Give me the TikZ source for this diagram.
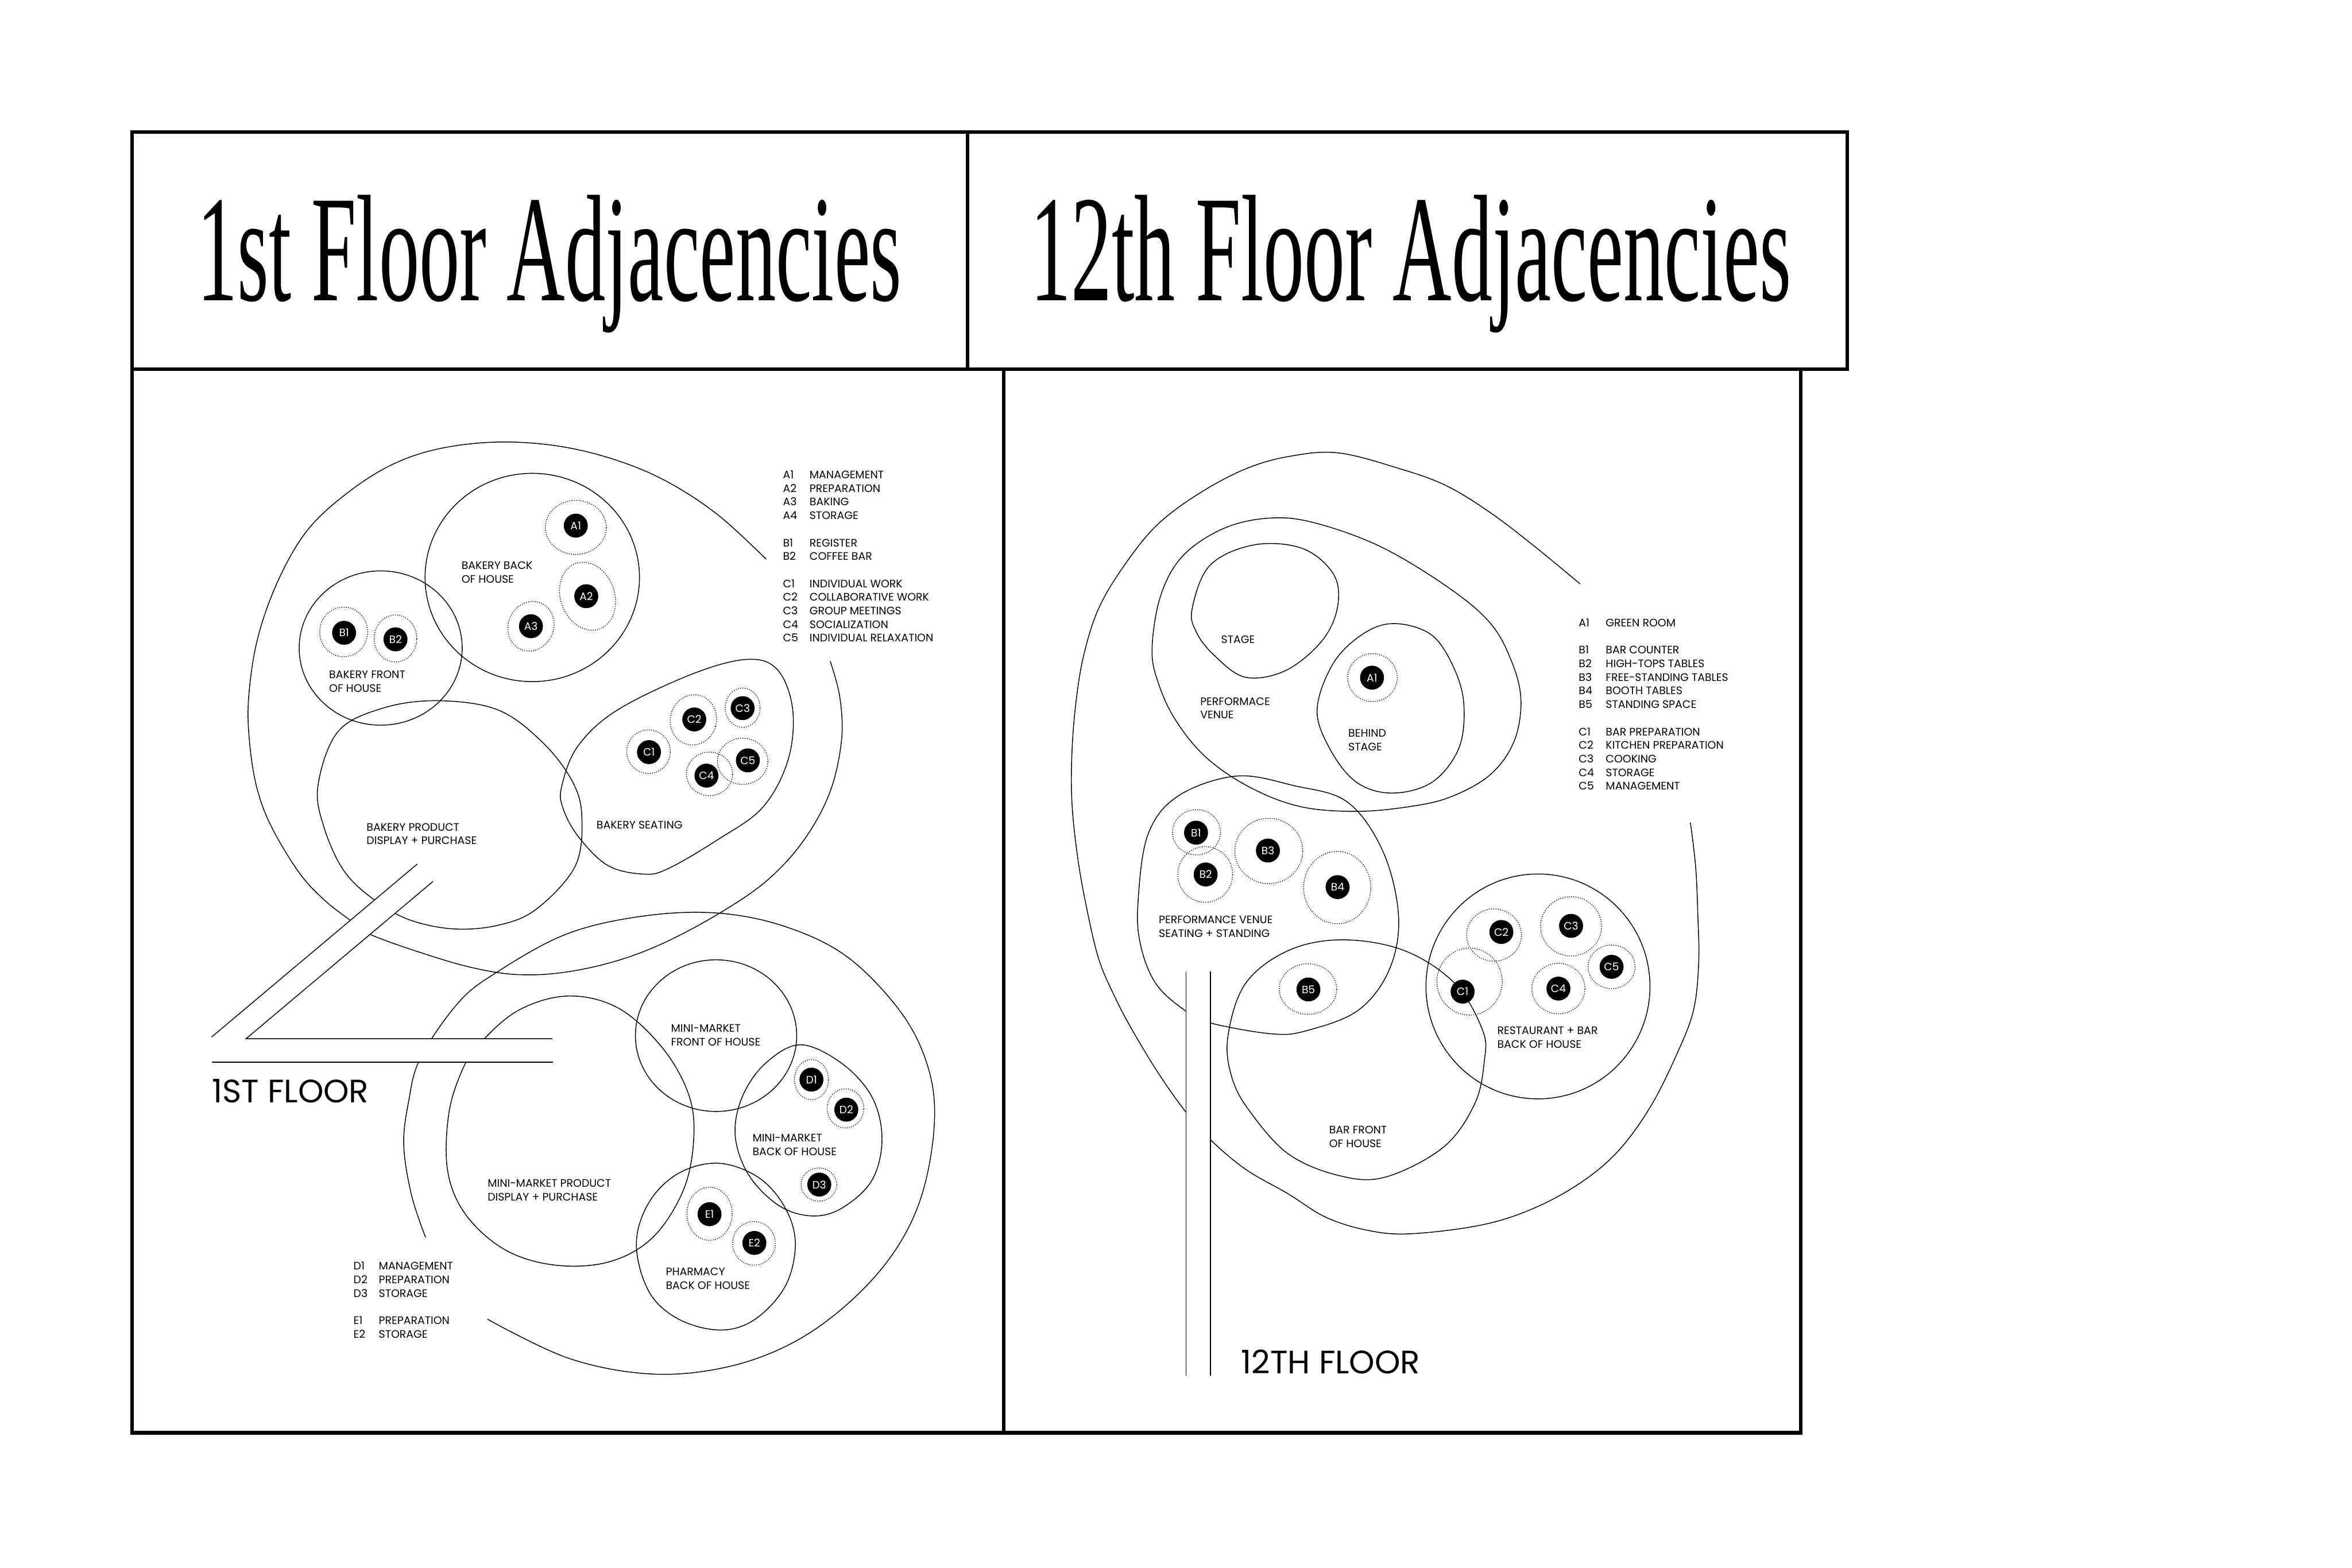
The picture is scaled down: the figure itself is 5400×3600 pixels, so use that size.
\documentclass[tikz,border=0pt]{standalone}
\usepackage{fontspec}
\setmainfont{Poppins}
\newfontfamily\titlefont{Liberation Serif}
\newcommand\twol[2]{\begin{tabular}[t]{@{}l@{}}#1\\#2\end{tabular}}
\tikzset{
  zone/.style={line width=0.55pt},
  ring/.style={line width=0.7pt, dash pattern=on 0pt off 1.45pt, line cap=round},
  dot/.style={circle, fill=black, inner sep=0pt, minimum size=0.55cm, text=white, font=\fontsize{7}{8}\selectfont},
  lbl/.style={inner sep=0pt, anchor=base west, font=\fontsize{7.1}{8.88}\selectfont},
  floorlbl/.style={inner sep=0pt, anchor=base west, font=\fontsize{21.2}{24}\selectfont},
  framebox/.style={line width=2.3pt},
  corr/.style={line width=0.55pt},
}
\newcommand\dring[5]{\draw[ring, rotate around={#5:(#1,#2)}] (#1,#2) ellipse [x radius=#3*0.01cm, y radius=#4*0.01cm];}
\begin{document}
\begin{tikzpicture}[x=0.01cm, y=-0.01cm]
\useasboundingbox (0,0) rectangle (5400,3600);

% ================= 1ST FLOOR =================
% bakery outer (open)
\draw[zone] plot[smooth, tension=0.6] coordinates {(1759,1284) (1648,1182) (1530,1105) (1410,1055) (1280,1024) (1143,1015) (1010,1030) (902,1066) (800,1130) (707,1216) (640,1330) (592,1464) (571,1600) (573,1705) (590,1810) (624,1900) (687,2004) (744,2066) (804,2113) (851,2146) (974,2190) (1089,2223) (1192,2238) (1300,2232) (1420,2205) (1533,2161) (1660,2092) (1763,2020) (1845,1930) (1905,1820) (1932,1700) (1928,1600) (1906,1518)};
% bakery back of house
\draw[zone] (1222,1326) ellipse [x radius=2.46cm, y radius=2.39cm];
% bakery front of house
\draw[zone] (874,1488) ellipse [x radius=1.87cm, y radius=1.77cm];
% bakery product display
\draw[zone] plot[smooth cycle, tension=0.6] coordinates {(730,1804) (776,1680) (879,1626) (1005,1609) (1143,1630) (1246,1705) (1315,1796) (1336,1879) (1320,1990) (1232,2087) (1146,2124) (1043,2133) (940,2112) (859,2066) (790,2000) (744,1900)};
% bakery seating
\draw[zone] plot[smooth cycle, tension=0.6] coordinates {(1290,1804) (1327,1713) (1418,1630) (1591,1547) (1717,1514) (1786,1539) (1820,1630) (1809,1746) (1751,1854) (1648,1928) (1533,1995) (1476,2007) (1395,1987) (1327,1920) (1292,1854)};
% mini-market outer (open)
\draw[zone] plot[smooth, tension=0.6] coordinates {(977,2841) (945,2745) (927,2630) (938,2530) (965,2430) (1050,2305) (1135,2236) (1300,2145) (1480,2103) (1653,2097) (1810,2130) (1949,2200) (2071,2328) (2132,2455) (2145,2583) (2117,2742) (2056,2870) (1956,2985) (1826,3080) (1673,3138) (1497,3155) (1306,3119) (1119,3029)};
% mini-market product display
\draw[zone] plot[smooth cycle, tension=0.6] coordinates {(1305,2287) (1420,2315) (1520,2405) (1580,2510) (1593,2610) (1570,2730) (1500,2840) (1400,2897) (1275,2905) (1160,2870) (1070,2790) (1028,2690) (1030,2560) (1060,2460) (1100,2398) (1190,2320)};
% mini-market front of house
\draw[zone] (1644,2378) ellipse [x radius=1.85cm, y radius=1.74cm];
% mini-market back of house
\draw[zone] plot[smooth cycle, tension=0.6] coordinates {(1838,2399) (1933,2442) (2002,2519) (2025,2615) (2002,2710) (1933,2774) (1864,2792) (1788,2768) (1719,2698) (1688,2608) (1704,2519) (1757,2442)};
% pharmacy back of house
\draw[zone] plot[smooth cycle, tension=0.6] coordinates {(1650,2671) (1742,2704) (1803,2774) (1826,2857) (1803,2953) (1734,3029) (1654,3054) (1558,3029) (1490,2966) (1461,2857) (1490,2761) (1558,2694)};

% corridor 1st floor
\fill[white] (958,1984) -- (994,2024) -- (565,2385) -- (1268,2385) -- (1268,2439) -- (486,2439) -- (486,2381) -- cycle;
\coordinate (c1a) at (958,1984);
\coordinate (c1b) at (486,2381);
\coordinate (c2a) at (994,2024);
\coordinate (c2b) at (565,2385);
\coordinate (c2c) at (1268,2385);
\coordinate (c3a) at (486,2439);
\coordinate (c3b) at (1270,2439);
\draw[corr] (c1a) -- (c1b);
\draw[corr] (c2a) -- (c2b) -- (c2c);
\draw[corr] (c3a) -- (c3b);

% rings 1st floor
\dring{1322}{1211}{70}{62}{0}
\dring{1349}{1369}{62}{80}{20}
\dring{1219}{1438}{52}{58}{-25}
\dring{789}{1451}{55}{57}{0}
\dring{908}{1466}{49}{54}{0}
\dring{1489}{1726}{50}{50}{0}
\dring{1592}{1653}{53}{58}{-15}
\dring{1705}{1625}{40}{45}{0}
\dring{1629}{1777}{53}{50}{0}
\dring{1705}{1748}{58}{53}{0}
\dring{1863}{2479}{39}{46}{0}
\dring{1941}{2545}{42}{45}{0}
\dring{1880}{2720}{41}{38}{0}
\dring{1629}{2787}{52}{61}{0}
\dring{1731}{2855}{49}{50}{0}

% dots 1st floor
\node[dot] (la1) at (1322,1207) {A1};
\node[dot] (la2) at (1346,1369) {A2};
\node[dot] (la3) at (1219,1438) {A3};
\node[dot] (lb1) at (790,1453) {B1};
\node[dot] (lb2) at (908,1468) {B2};
\node[dot] (lc1) at (1490,1727) {C1};
\node[dot] (lc2) at (1594,1652) {C2};
\node[dot] (lc3) at (1705,1626) {C3};
\node[dot] (lc4) at (1622,1781) {C4};
\node[dot] (lc5) at (1717,1746) {C5};
\node[dot] (ld1) at (1863,2479) {D1};
\node[dot] (ld2) at (1943,2548) {D2};
\node[dot] (ld3) at (1881,2720) {D3};
\node[dot] (le1) at (1629,2788) {E1};
\node[dot] (le2) at (1732,2854) {E2};

% labels 1st floor
\node[lbl] (lbboh) at (1059,1307) {\twol{BAKERY BACK}{OF HOUSE}};
\node[lbl] (lbfoh) at (755,1558) {\twol{BAKERY FRONT}{OF HOUSE}};
\node[lbl] (lbpd) at (841,1908) {\twol{BAKERY PRODUCT}{DISPLAY + PURCHASE}};
\node[lbl] (lbs) at (1369,1903) {BAKERY SEATING};
\node[lbl] (lmfoh) at (1540,2370) {\twol{MINI-MARKET}{FRONT OF HOUSE}};
\node[lbl] (lmboh) at (1727,2622) {\twol{MINI-MARKET}{BACK OF HOUSE}};
\node[lbl] (lmpd) at (1119,2726) {\twol{MINI-MARKET PRODUCT}{DISPLAY + PURCHASE}};
\node[lbl] (lpboh) at (1528,2929) {\twol{PHARMACY}{BACK OF HOUSE}};

\node[lbl] (leg1) at (1797,1099) {\begin{tabular}[t]{@{}p{0.61cm}@{}l@{}}
A1&MANAGEMENT\\A2&PREPARATION\\A3&BAKING\\A4&STORAGE\\&\\
B1&REGISTER\\B2&COFFEE BAR\\&\\
C1&INDIVIDUAL WORK\\C2&COLLABORATIVE WORK\\C3&GROUP MEETINGS\\C4&SOCIALIZATION\\C5&INDIVIDUAL RELAXATION
\end{tabular}};
\node[lbl] (leg2) at (811,2916) {\begin{tabular}[t]{@{}p{0.58cm}@{}l@{}}
D1&MANAGEMENT\\D2&PREPARATION\\D3&STORAGE\\&\\
E1&PREPARATION\\E2&STORAGE
\end{tabular}};
\node[floorlbl] (fl1) at (486,2532) {1ST FLOOR};

% ================= 12TH FLOOR =================
% outer (open)
\draw[zone] plot[smooth, tension=0.6] coordinates {(3628,1341) (3520,1252) (3420,1176) (3320,1115) (3216,1077) (3073,1040) (2960,1048) (2859,1077) (2750,1135) (2655,1207) (2580,1300) (2522,1398) (2488,1505) (2470,1615) (2461,1730) (2461,1842) (2473,1960) (2492,2071) (2522,2200) (2560,2290) (2600,2366) (2660,2465) (2723,2554) (2779,2617) (2860,2685) (2957,2741) (3044,2795) (3140,2825) (3238,2833) (3400,2813) (3520,2775) (3630,2715) (3716,2642) (3790,2540) (3850,2420) (3888,2320) (3900,2210) (3898,2100) (3893,1990) (3881,1889)};
% performance venue
\draw[zone] plot[smooth cycle, tension=0.6] coordinates {(2645,1490) (2665,1367) (2716,1276) (2808,1214) (2910,1190) (3012,1199) (3165,1253) (3318,1344) (3420,1429) (3471,1520) (3492,1610) (3475,1705) (3420,1780) (3330,1830) (3237,1852) (3114,1863) (2985,1852) (2870,1808) (2770,1740) (2700,1655) (2660,1570)};
% stage
\draw[zone] plot[smooth cycle, tension=0.6] coordinates {(2737,1398) (2778,1298) (2880,1251) (2992,1260) (3063,1321) (3070,1398) (3033,1474) (2951,1540) (2859,1555) (2788,1505) (2747,1452)};
% behind stage
\draw[zone] plot[smooth cycle, tension=0.6] coordinates {(3024,1628) (3063,1520) (3135,1452) (3206,1432) (3288,1459) (3339,1536) (3361,1620) (3349,1719) (3288,1796) (3196,1821) (3114,1796) (3053,1719)};
% performance venue seating + standing
\draw[zone] plot[smooth cycle, tension=0.6] coordinates {(2839,1782) (2971,1804) (3094,1842) (3176,1957) (3211,2106) (3189,2228) (3118,2320) (3002,2366) (2921,2374) (2779,2349) (2723,2322) (2654,2259) (2618,2167) (2613,2068) (2636,1915) (2706,1827)};
% bar front of house
\draw[zone] plot[smooth cycle, tension=0.6] coordinates {(2819,2381) (2859,2259) (2957,2183) (3082,2158) (3225,2183) (3341,2259) (3404,2366) (3408,2435) (3386,2534) (3314,2634) (3180,2703) (3073,2699) (2957,2649) (2868,2550) (2828,2473)};
% restaurant + bar back of house
\draw[zone] (3531,2265) ellipse [x radius=2.57cm, y radius=2.58cm];

% corridor 12th floor
\fill[white] (2723,2231) rectangle (2779,3159);
\coordinate (v1a) at (2723,2231);
\coordinate (v1b) at (2723,3159);
\coordinate (v2a) at (2779,2231);
\coordinate (v2b) at (2779,3159);
\draw[corr] (v1a) -- (v1b);
\draw[corr] (v2a) -- (v2b);

% rings 12th floor
\dring{3151}{1556}{57}{55}{0}
\dring{2747}{1911}{55}{52}{0}
\dring{2767}{2008}{63}{64}{0}
\dring{2913}{1954}{78}{75}{0}
\dring{3070}{2038}{77}{83}{0}
\dring{3003}{2271}{66}{58}{0}
\dring{3374}{2254}{75}{77}{0}
\dring{3430}{2147}{63}{60}{0}
\dring{3607}{2127}{70}{68}{0}
\dring{3578}{2270}{61}{58}{0}
\dring{3700}{2220}{54}{50}{0}

% dots 12th floor
\node[dot] (ra1) at (3150,1556) {A1};
\node[dot] (rb1) at (2746,1912) {B1};
\node[dot] (rb2) at (2768,2008) {B2};
\node[dot] (rb3) at (2911,1953) {B3};
\node[dot] (rb4) at (3071,2037) {B4};
\node[dot] (rb5) at (3004,2272) {B5};
\node[dot] (rc1) at (3358,2277) {C1};
\node[dot] (rc2) at (3447,2140) {C2};
\node[dot] (rc3) at (3607,2126) {C3};
\node[dot] (rc4) at (3578,2270) {C4};
\node[dot] (rc5) at (3700,2220) {C5};

% labels 12th floor
\node[lbl] (lstage) at (2803,1477) {STAGE};
\node[lbl] (lpv) at (2755,1619) {\twol{PERFORMACE}{VENUE}};
\node[lbl] (lbs2) at (3095,1692) {\twol{BEHIND}{STAGE}};
\node[lbl] (lpvs) at (2660,2121) {\twol{PERFORMANCE VENUE}{SEATING + STANDING}};
\node[lbl] (lbfoh2) at (3051,2603) {\twol{BAR FRONT}{OF HOUSE}};
\node[lbl] (lrb) at (3437,2375) {\twol{RESTAURANT + BAR}{BACK OF HOUSE}};

\node[lbl] (leg3) at (3624,1439) {\begin{tabular}[t]{@{}p{0.62cm}@{}l@{}}
A1&GREEN ROOM\\&\\
B1&BAR COUNTER\\B2&HIGH-TOPS TABLES\\B3&FREE-STANDING TABLES\\B4&BOOTH TABLES\\B5&STANDING SPACE\\&\\
C1&BAR PREPARATION\\C2&KITCHEN PREPARATION\\C3&COOKING\\C4&STORAGE\\C5&MANAGEMENT
\end{tabular}};
\node[floorlbl] (fl12) at (2849,3154) {12TH FLOOR};

% ================= FRAMES & TITLES =================
\draw[framebox] (303,303) rectangle (4241,848);
\draw[framebox] (2221,303) -- (2221,848);
\draw[framebox] (303,848) rectangle (4134,3290);
\draw[framebox] (2304,848) -- (2304,3290);

\node[inner sep=0pt, anchor=base west] (t1) at (452,690) {\resizebox{16.16cm}{2.42cm}{\titlefont 1st Floor Adjacencies}};
\node[inner sep=0pt, anchor=base west] (t2) at (2365,690) {\resizebox{17.45cm}{2.42cm}{\titlefont 12th Floor Adjacencies}};
\end{tikzpicture}
\end{document}
